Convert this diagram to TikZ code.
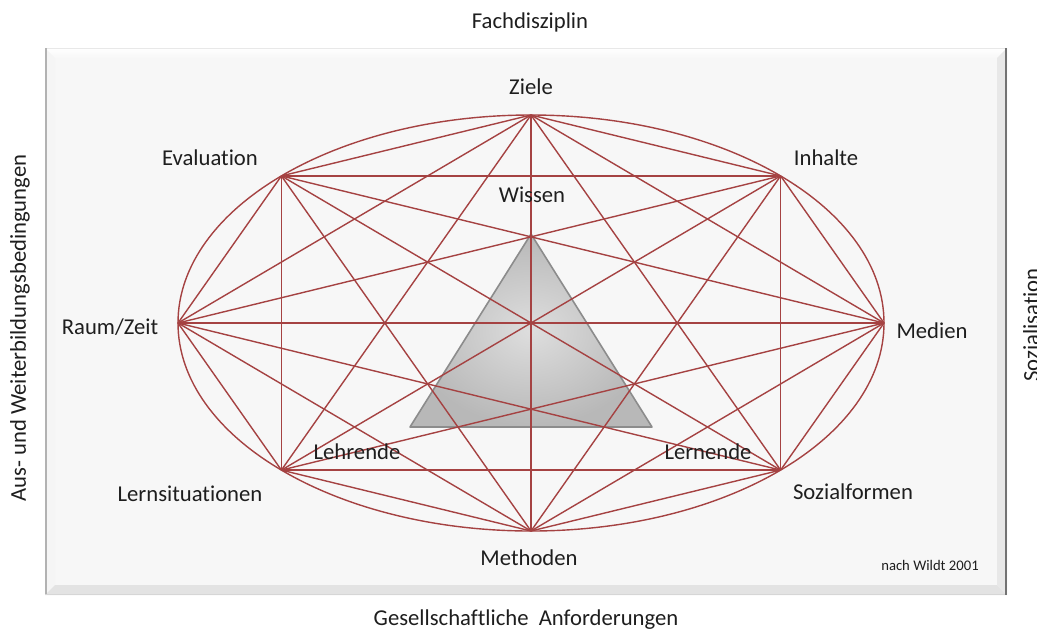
\documentclass[tikz,border=0pt]{standalone}
\usepackage{fontspec}
\setmainfont{Carlito}[Ligatures=NoCommon]
\definecolor{webred}{RGB}{165,66,66}
\definecolor{framebg}{RGB}{247,247,247}
\definecolor{labtext}{RGB}{30,30,30}
\begin{document}
\begin{tikzpicture}[x=0.75pt,y=-0.75pt,
  lab/.style={font=\fontsize{17}{20}\selectfont, text=labtext, inner sep=0pt},
  web/.style={draw=webred, line width=1.05pt},
]
\useasboundingbox (0,0) rectangle (1037,633);

% bevelled panel
\fill[framebg] (45,48) rectangle (1007,595);
\shade[top color=white, bottom color=framebg] (45,48) -- (1007,48) -- (997,58) -- (55,58) -- cycle;
\fill[black!4] (45,48) -- (55,58) -- (55,585) -- (45,595) -- cycle;
\fill[black!11] (45,595) -- (55,585) -- (997,585) -- (1007,595) -- cycle;
\fill[black!9] (1007,48) -- (997,58) -- (997,585) -- (1007,595) -- cycle;
\draw[black!9, line width=1pt] (45,48.5) -- (1007,48.5);
\draw[black!30, line width=1.6pt] (46,48) -- (46,595);
\draw[black!16, line width=1pt] (45,594.5) -- (1007,594.5);
\draw[black!55, line width=2pt] (1006,48) -- (1006,595);

% central triangle
\coordinate (wissen) at (531,234);
\coordinate (lehrende) at (410,427);
\coordinate (lernende) at (652,427);
\shade[inner color=black!13, outer color=black!28]
  (wissen) -- (lernende) -- (lehrende) -- cycle;
\draw[black!45, line width=1.2pt, line join=round]
  (wissen) -- (lernende) -- (lehrende) -- cycle;

% ellipse with eight points and all their chords
\draw[web] (531,323) ellipse [x radius=353, y radius=208];
\foreach \i in {0,...,7}
  \coordinate (p\i) at ({531+353*cos(45*\i)},{323-208*sin(45*\i)});
\foreach \i in {0,...,6}{
  \pgfmathtruncatemacro{\s}{\i+1}
  \foreach \j in {\s,...,7}
    \draw[web] (p\i) -- (p\j);
}

% labels
\node[lab] (fach) at (530,22) {Fachdisziplin};
\node[lab] (ziele) at (531,87) {Ziele};
\node[lab] (evaluation) at (210,158) {Evaluation};
\node[lab] (inhalte) at (826,158) {Inhalte};
\node[lab] (lwissen) at (532,195) {Wissen};
\node[lab] (raum) at (110,327) {Raum/Zeit};
\node[lab] (medien) at (932,331) {Medien};
\node[lab] (llehrende) at (357,452) {Lehrende};
\node[lab] (llernende) at (708,452) {Lernende};
\node[lab] (lernsit) at (190,494) {Lernsituationen};
\node[lab] (sozialf) at (853,492) {Sozialformen};
\node[lab] (methoden) at (529,558) {Methoden};
\node[lab, font=\fontsize{11}{13}\selectfont] (quelle) at (930,565) {nach Wildt 2001};
\node[lab] (gesell) at (526,620) {Gesellschaftliche\ \ Anforderungen};
\node[lab, rotate=90] (aus) at (20,328) {Aus- und Weiterbildungsbedingungen};
\node[lab, rotate=90] (sozialisation) at (1031,325) {Sozialisation};
\end{tikzpicture}
\end{document}
